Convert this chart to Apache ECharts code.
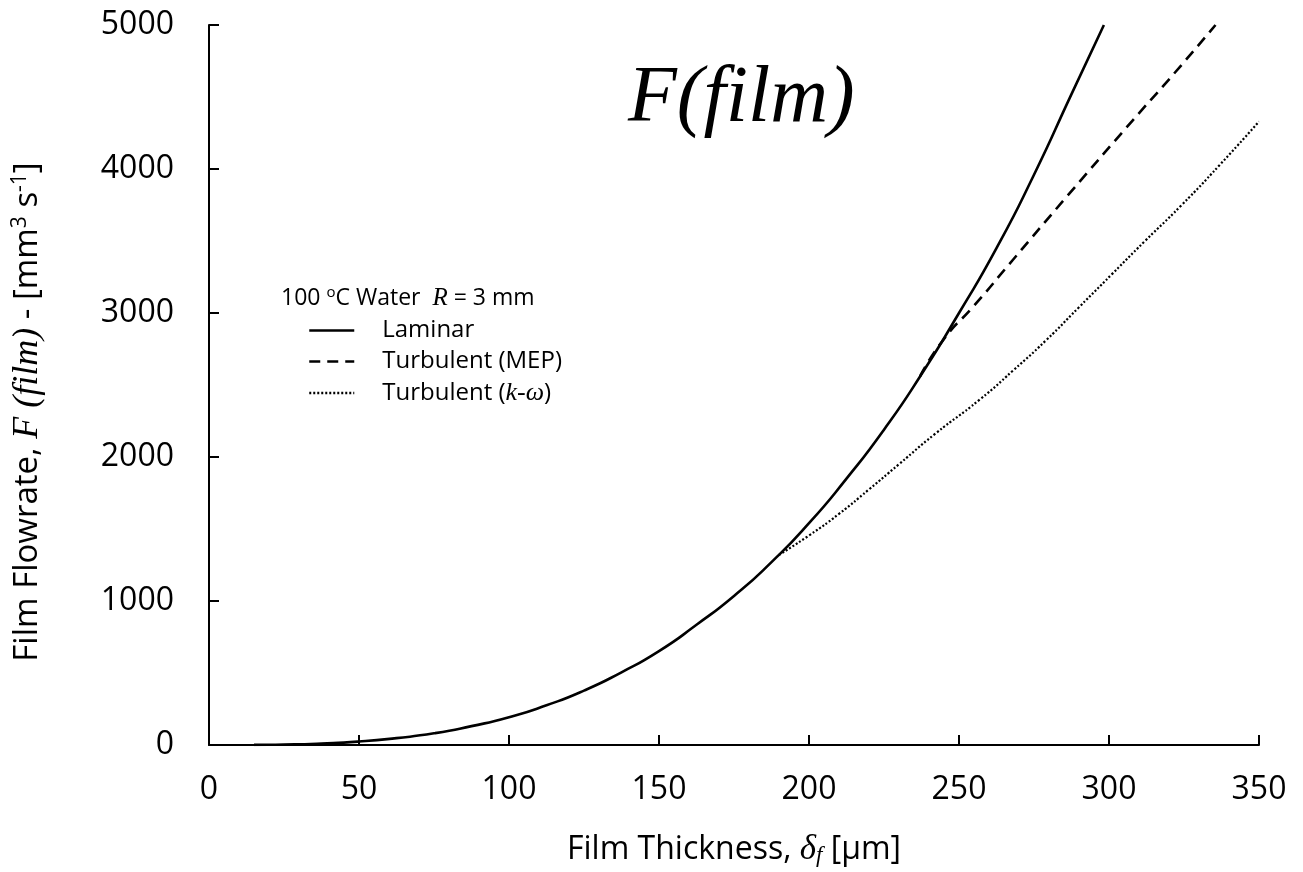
<!DOCTYPE html>
<html>
<head>
<meta charset="utf-8">
<script src="https://cdn.jsdelivr.net/npm/echarts@6/dist/echarts.min.js"></script>
<style>html,body{margin:0;padding:0;background:#fff;}#c{width:1303px;height:872px;}</style>
</head>
<body>
<div id="c"></div>
<script>
// Data
const laminarX = [15, 25, 37.5, 50, 62.5, 75, 87.5, 100, 112.5, 125, 137.5, 150, 162.5, 175, 187.5, 200, 212.5, 225, 237.5, 250, 262.5, 275, 287.5, 298.3];
const laminarY = [1, 3, 10, 24, 48, 81, 131, 193, 276, 378, 505, 652, 835, 1035, 1270, 1540, 1850, 2190, 2575, 3000, 3450, 3960, 4520, 5000];
const mepX = [237, 245, 255, 268, 286, 308, 322, 335.5];
const mepY = [2560, 2820, 3050, 3370, 3810, 4340, 4670, 5000];
const komegaX = [190, 200, 210, 220, 230, 242, 257, 268, 279, 290, 301, 312, 324, 337, 350];
const komegaY = [1320, 1455, 1605, 1775, 1950, 2160, 2400, 2600, 2810, 3040, 3270, 3500, 3745, 4030, 4330];
const seriesNames = ['Laminar', 'Turbulent (MEP)', 'Turbulent (k-ω)'];
const xTicks = [0, 50, 100, 150, 200, 250, 300, 350];
const yTicks = [0, 1000, 2000, 3000, 4000, 5000];

const pairs = (xs, ys) => xs.map((x, i) => [x, ys[i]]);
const FONT = 'Open Sans';
const SERIF = 'Liberation Serif';

const chart = echarts.init(document.getElementById('c'), null, {renderer: 'canvas'});
chart.setOption({
  backgroundColor: '#ffffff',
  animation: false,
  color: ['#000', '#000', '#000'],
  grid: {left: 209, right: 44, top: 25, bottom: 127, containLabel: false},
  xAxis: {
    type: 'value', min: xTicks[0], max: xTicks[xTicks.length - 1], interval: 50,
    axisLine: {lineStyle: {color: '#000', width: 2}},
    axisTick: {inside: true, length: 10, lineStyle: {color: '#000', width: 2}},
    axisLabel: {color: '#000', fontFamily: FONT, fontSize: 32, margin: 29, formatter: v => String(v)},
    splitLine: {show: false},
    name: 'Film Thickness, {d|δ}{sub|f} [μm]',
    nameLocation: 'middle', nameGap: 87,
    nameTextStyle: {
      color: '#000', fontFamily: FONT, fontSize: 32,
      rich: {
        d: {fontFamily: SERIF, fontStyle: 'italic', fontSize: 35, color: '#000'},
        sub: {fontFamily: SERIF, fontStyle: 'italic', fontSize: 23, color: '#000', verticalAlign: 'bottom', padding: [12, 0, 0, 0]}
      }
    }
  },
  yAxis: {
    type: 'value', min: yTicks[0], max: yTicks[yTicks.length - 1], interval: 1000,
    axisLine: {show: true, lineStyle: {color: '#000', width: 2}},
    axisTick: {show: true, inside: true, length: 10, lineStyle: {color: '#000', width: 2}},
    axisLabel: {color: '#000', fontFamily: FONT, fontSize: 32, margin: 35, formatter: v => String(v)},
    splitLine: {show: false}
  },
  legend: {
    orient: 'vertical', left: 303, top: 313,
    itemWidth: 45, itemHeight: 14, itemGap: 6,
    data: seriesNames,
    itemStyle: {opacity: 0},
    lineStyle: {width: 2.5},
    formatter: function (n) { return n === 'Turbulent (k-ω)' ? 'Turbulent ({i|k-ω})' : n; },
    textStyle: {
      color: '#000', fontFamily: FONT, fontSize: 24, lineHeight: 25, padding: [0, 0, 0, 23],
      rich: {i: {fontFamily: SERIF, fontStyle: 'italic', fontSize: 26, color: '#000'}}
    },
    selectedMode: false
  },
  graphic: [
    {
      type: 'text', left: 628, top: 60,
      style: {text: 'F(film)', fontFamily: SERIF, fontStyle: 'italic', fontSize: 80, fill: '#000'}
    },
    {
      type: 'text', x: 281, y: 298,
      style: {
        text: '100 {sup|o}C Water  {i|R} = 3 mm',
        fontFamily: FONT, fontSize: 23, fill: '#000', verticalAlign: 'middle',
        rich: {
          sup: {fontFamily: FONT, fontSize: 15, fill: '#000', verticalAlign: 'top', padding: [0, 0, 10, 0]},
          i: {fontFamily: SERIF, fontStyle: 'italic', fontSize: 25, fill: '#000'}
        }
      }
    },
    {
      type: 'text', x: 28, y: 412, rotation: Math.PI / 2,
      style: {
        text: 'Film Flowrate, {i|F (film)} - [mm{sup|3} s{sup|-1}]',
        fontFamily: FONT, fontSize: 33, fill: '#000', align: 'center', verticalAlign: 'middle',
        rich: {
          i: {fontFamily: SERIF, fontStyle: 'italic', fontSize: 36, fill: '#000'},
          sup: {fontFamily: FONT, fontSize: 21, fill: '#000', verticalAlign: 'top', padding: [0, 0, 13, 0]}
        }
      }
    }
  ],
  series: [
    {
      name: seriesNames[0], type: 'line', data: pairs(laminarX, laminarY),
      smooth: 0.6, showSymbol: false, symbol: 'none', z: 3,
      itemStyle: {color: '#000'},
      lineStyle: {color: '#000', width: 2.6}
    },
    {
      name: seriesNames[1], type: 'line', data: pairs(mepX, mepY),
      smooth: 0.6, showSymbol: false, symbol: 'none',
      itemStyle: {color: '#000'},
      lineStyle: {color: '#000', width: 2.6, type: [11, 7]}
    },
    {
      name: seriesNames[2], type: 'line', data: pairs(komegaX, komegaY),
      smooth: 0.6, showSymbol: false, symbol: 'none',
      itemStyle: {color: '#000'},
      lineStyle: {color: '#000', width: 2.2, type: [2, 2]}
    }
  ]
});
</script>
</body>
</html>
